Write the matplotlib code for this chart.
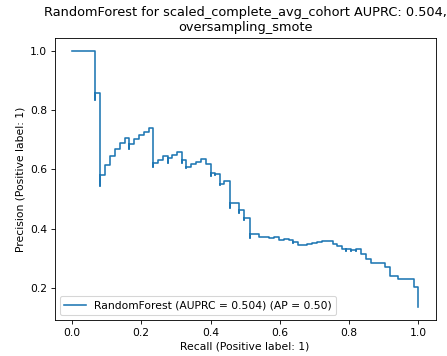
import matplotlib
matplotlib.use("Agg")
import matplotlib.pyplot as plt

# Precision-recall curve points (ascending recall)
recall = [0.000, 0.068, 0.068, 0.082, 0.082, 0.096, 0.111, 0.125, 0.138, 0.152,
          0.166, 0.166, 0.179, 0.193, 0.207, 0.222, 0.235, 0.235, 0.249, 0.262,
          0.277, 0.277, 0.290, 0.304, 0.317, 0.317, 0.330, 0.330, 0.344, 0.359,
          0.373, 0.387, 0.400, 0.400, 0.413, 0.413, 0.426, 0.426, 0.440, 0.455,
          0.455, 0.483, 0.483, 0.498, 0.498, 0.514, 0.514, 0.541, 0.556, 0.570,
          0.584, 0.597, 0.612, 0.626, 0.639, 0.639, 0.652, 0.679, 0.694, 0.707,
          0.722, 0.737, 0.752, 0.765, 0.778, 0.792, 0.792, 0.806, 0.806, 0.820,
          0.820, 0.834, 0.848, 0.863, 0.876, 0.890, 0.904, 0.918, 0.930, 0.942,
          0.957, 0.971, 0.986, 1.000, 1.000]
precision = [1.000, 1.000, 0.832, 0.858, 0.544, 0.582, 0.615, 0.643, 0.667, 0.690,
             0.706, 0.667, 0.685, 0.701, 0.715, 0.726, 0.740, 0.607, 0.621, 0.631,
             0.645, 0.622, 0.637, 0.648, 0.657, 0.622, 0.631, 0.604, 0.609, 0.618,
             0.626, 0.635, 0.618, 0.578, 0.589, 0.582, 0.585, 0.546, 0.551, 0.561,
             0.470, 0.485, 0.453, 0.461, 0.430, 0.434, 0.368, 0.383, 0.372, 0.372,
             0.369, 0.370, 0.363, 0.365, 0.360, 0.350, 0.354, 0.343, 0.347, 0.352,
             0.356, 0.357, 0.359, 0.349, 0.341, 0.330, 0.326, 0.330, 0.326, 0.329,
             0.326, 0.330, 0.315, 0.299, 0.285, 0.284, 0.283, 0.271, 0.241, 0.240,
             0.229, 0.229, 0.229, 0.202, 0.135]

model_name = "RandomForest"
auprc_label = "0.504"
ap_label = "0.50"
title_text = "RandomForest for scaled_complete_avg_cohort AUPRC: 0.504,\noversampling_smote"

DPI = 77
fig = plt.figure(figsize=(447 / DPI, 356 / DPI), dpi=DPI)
ax = fig.add_axes([0.122, 0.101, 0.853, 0.793])

ax.plot(recall, precision, drawstyle="steps-pre", color="#1f77b4", lw=1.5,
        label=f"{model_name} (AUPRC = {auprc_label}) (AP = {ap_label})")
ax.set_xlabel("Recall (Positive label: 1)")
ax.set_ylabel("Precision (Positive label: 1)")
ax.set_title(title_text)
ax.set_xticks([0.0, 0.2, 0.4, 0.6, 0.8, 1.0])
ax.set_yticks([0.2, 0.4, 0.6, 0.8, 1.0])
ax.legend(loc="lower left")

fig.savefig("out.png", dpi=DPI)
